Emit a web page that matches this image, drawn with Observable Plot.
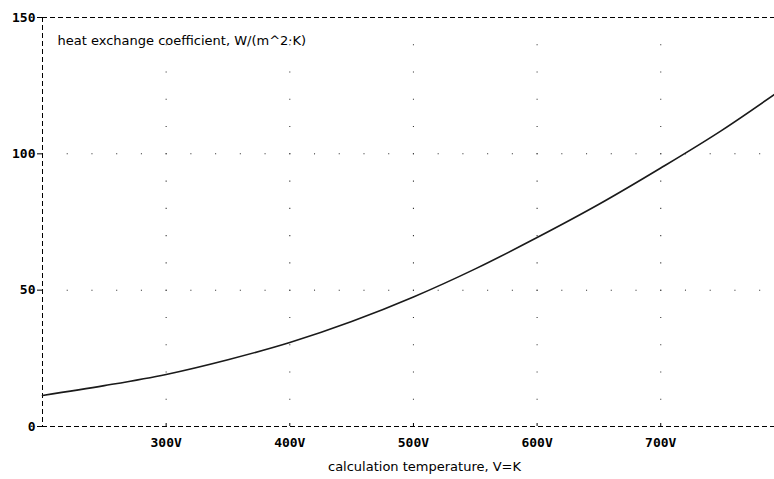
<!DOCTYPE html>
<html>
<head>
<meta charset="utf-8">
<script src="https://cdn.jsdelivr.net/npm/d3@7"></script>
<script src="https://cdn.jsdelivr.net/npm/@observablehq/plot@0.6"></script>
<style>
  html, body { margin: 0; padding: 0; background: #fff; }
</style>
</head>
<body>
<div id="chart"></div>
<script>
// Data
const temperatures = [200, 250, 300, 350, 400, 450, 500, 550, 600, 650, 700, 750, 792];
const coefficients = [11.4, 15.0, 19.1, 24.5, 30.8, 38.5, 47.5, 57.8, 69.3, 81.5, 94.8, 108.8, 121.8];

const xDomain = [200, 792];
const yDomain = [0, 150];
const xTicks = [300, 400, 500, 600, 700];
const yTicks = [0, 50, 100, 150];
const yGridLines = [50, 100];
const yDotStep = 10;   // dots along vertical grid lines
const xDotStep = 20;   // dots along horizontal grid lines

const yTitle = "heat exchange coefficient, W/(m^2·K)";
const xTitle = "calculation temperature, V=K";

const curve = temperatures.map((t, i) => ({t, h: coefficients[i]}));

// grid dots derived from tick arrays
const vDots = [];
for (const x of xTicks) for (let y = yDotStep; y < yDomain[1]; y += yDotStep) vDots.push({x, y});
const hDots = [];
for (const y of yGridLines) for (let x = xDomain[0] + xDotStep; x < xDomain[1]; x += xDotStep) hDots.push({x, y});

const tickFont = "'DejaVu Sans Mono', monospace";
const titleFont = "'DejaVu Sans', Verdana, sans-serif";

const chart = Plot.plot({
  width: 774,
  height: 479,
  marginLeft: 42,
  marginRight: 0,
  marginTop: 17,
  marginBottom: 53,
  x: {domain: xDomain},
  y: {domain: yDomain},
  style: {background: "white", color: "black"},
  marks: [
    // grid dots
    Plot.dot(vDots, {x: "x", y: "y", r: 0.6, symbol: "square", fill: "#333", stroke: null}),
    Plot.dot(hDots, {x: "x", y: "y", r: 0.6, symbol: "square", fill: "#333", stroke: null}),
    // dashed frame
    Plot.ruleY([yDomain[0], yDomain[1]], {stroke: "black", strokeWidth: 1, strokeDasharray: "5,3"}),
    Plot.ruleX([xDomain[0]], {stroke: "black", strokeWidth: 1, strokeDasharray: "5,3"}),
    // small upward ticks on the bottom axis
    Plot.ruleX(xTicks, {y1: 0, y2: 1.1, stroke: "black"}),
    // axes
    Plot.axisX({
      ticks: xTicks, tickSize: 0, tickPadding: 11,
      tickFormat: d => `${d}V`, label: null,
      fontFamily: tickFont, fontWeight: "bold", fontSize: 13
    }),
    Plot.axisY({
      ticks: yTicks, tickSize: 5, tickPadding: 2, label: null,
      fontFamily: tickFont, fontWeight: "bold", fontSize: 13
    }),
    // curve
    Plot.line(curve, {x: "t", y: "h", stroke: "#1a1a1a", strokeWidth: 1.6, curve: "monotone-x"}),
    // titles
    Plot.text([yTitle], {frameAnchor: "top-left", dx: 15, dy: 18, textAnchor: "start",
      fontFamily: titleFont, fontSize: 13, fill: "black"}),
    Plot.text([xTitle], {frameAnchor: "bottom", dx: 16, dy: 44,
      fontFamily: titleFont, fontSize: 13, fill: "black"})
  ]
});

document.getElementById("chart").appendChild(chart);
</script>
</body>
</html>
